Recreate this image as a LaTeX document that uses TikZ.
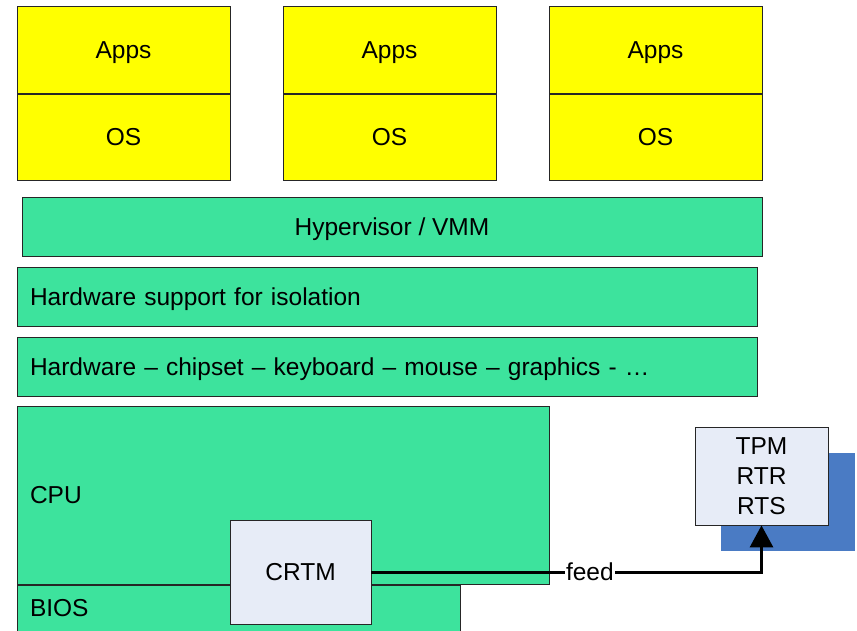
\documentclass[tikz,border=0pt]{standalone}
\usepackage{fontspec}
\setmainfont{Liberation Sans}
\usetikzlibrary{positioning,arrows.meta}
\definecolor{vmyellow}{RGB}{255,255,0}
\definecolor{hwgreen}{RGB}{61,227,157}
\definecolor{chipgray}{RGB}{231,236,247}
\definecolor{tpmblue}{RGB}{74,123,196}
\begin{document}
\begin{tikzpicture}[x=1pt, y=-1pt, font=\fontsize{24.5}{30}\selectfont,
    vm/.style={rectangle, draw=black!85, line width=0.8pt, fill=vmyellow, minimum width=213pt, minimum height=86.5pt, inner sep=0pt, text depth=0pt},
    layer/.style={rectangle, draw=black!85, line width=0.8pt, fill=hwgreen, minimum height=59pt, inner xsep=13pt, inner ysep=0pt, text depth=0pt, align=left},
    chip/.style={rectangle, draw=black!85, line width=0.8pt, fill=chipgray, inner sep=0pt, align=center}]
    \useasboundingbox (0,0) rectangle (857,630);
    % guest machines
    \node[vm] (apps1) at (123.5,50) {Apps};
    \node[vm] (os1) [below=0pt of apps1] {OS};
    \node[vm] (apps2) at (389.5,50) {Apps};
    \node[vm] (os2) [below=0pt of apps2] {OS};
    \node[vm] (apps3) at (655.5,50) {Apps};
    \node[vm] (os3) [below=0pt of apps3] {OS};
    % layers
    \node[layer, minimum width=740pt, align=center] (hyp) at (392,226.5) {Hypervisor / VMM};
    \node[layer, text width=714pt] (iso) at (387,296.5) {Hardware support for isolation};
    \node[layer, text width=714pt] (hw) at (387,366.5) {Hardware -- chipset -- keyboard -- mouse -- graphics - \dots};
    \node[layer, text width=506pt, minimum height=178pt] (cpu) at (283,495) {CPU};
    \node[layer, text width=417pt, minimum height=52pt, text depth=7pt] (bios) at (238.5,611) {BIOS};
    % roots of trust
    \node[chip, minimum width=141pt, minimum height=104pt] (crtm) at (300.5,572) {CRTM};
    \node[fill=tpmblue, minimum width=134pt, minimum height=98pt, inner sep=0pt] (shadow) at (788,502) {};
    \node[chip, minimum width=133pt, minimum height=98pt] (tpm) at (761.5,476) {TPM\\RTR\\RTS};
    \draw[line width=3pt, -{Triangle[length=22pt,width=23pt]}] (crtm.east) -- node[pos=0.56, fill=white, inner sep=1pt] (feed) {feed} (crtm.east -| tpm.south) -- (tpm.south);
\end{tikzpicture}
\end{document}
